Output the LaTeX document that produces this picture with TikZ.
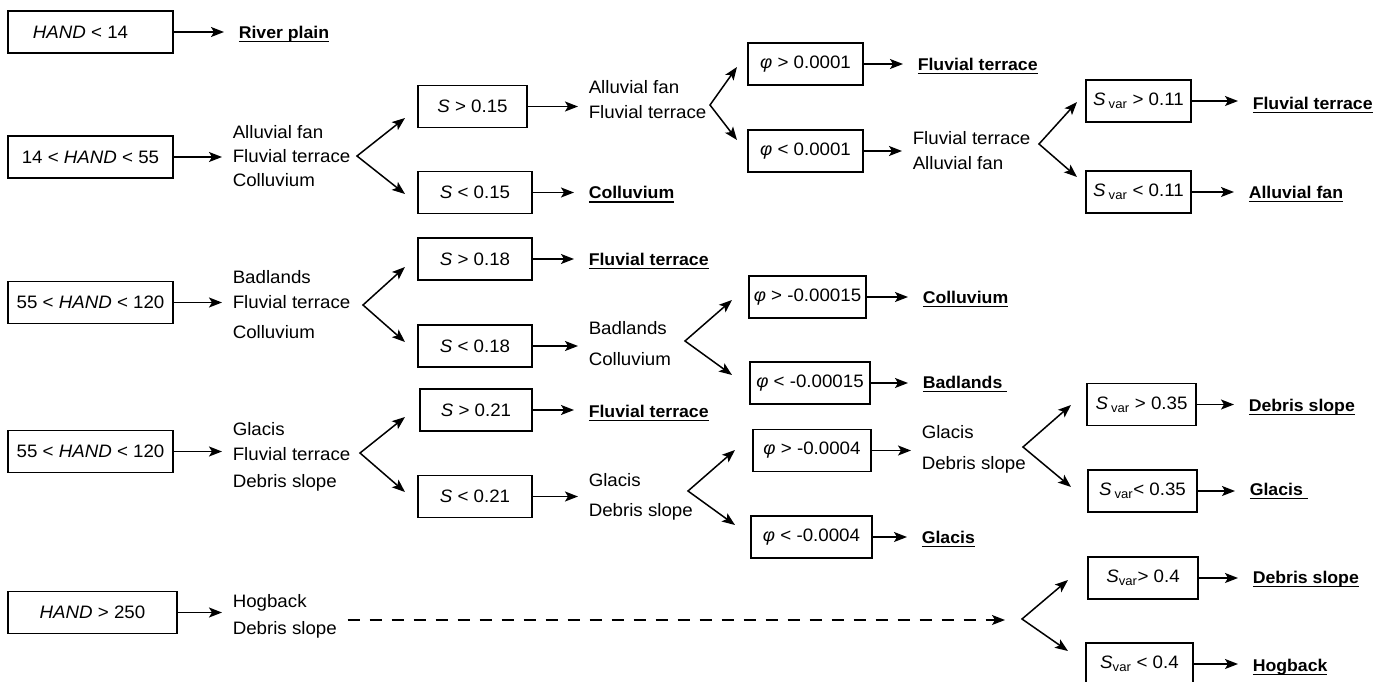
\documentclass[tikz,border=0pt]{standalone}
\usepackage{fontspec}
\setmainfont[FakeStretch=1.04]{Liberation Sans}
\usetikzlibrary{arrows.meta}

\newcommand{\undl}[1]{\sbox0{\textbf{#1}}\rlap{\rule[-4pt]{\wd0}{1.7pt}}\usebox0}

\begin{document}
\begin{tikzpicture}[x=1pt, y=-1pt,
    font=\fontsize{18}{24}\selectfont,
    line width=1.5pt,
    >={Stealth[length=13pt, width=10pt, inset=3pt]},
    cond/.style={draw, minimum width=#1, minimum height=42pt, inner sep=0pt},
    res/.style={anchor=west, inner xsep=14pt, inner ysep=0pt, text height=12.5pt, text depth=0pt,
        font=\fontsize{17}{20}\selectfont},
    stack/.style={anchor=base west, align=left, inner xsep=10pt, inner ysep=0pt}]
    \useasboundingbox (0, 0) rectangle (1382, 681);

    \node[cond=165] at (90.5, 32) (hand1) {\textit{HAND} < 14\hspace*{20pt}};
    \node[cond=165] at (90.5, 157) (hand2) {14 < \textit{HAND} < 55};
    \node[cond=165] at (90.5, 302.5) (hand3) {55 < \textit{HAND} < 120};
    \node[cond=165] at (90.5, 451.5) (hand4) {55 < \textit{HAND} < 120};
    \node[cond=169] at (92.5, 612.5) (hand5) {\textit{HAND} > 250};

    \node[stack] at (222, 186.5) (mix1) {Alluvial fan\\Fluvial terrace\\Colluvium};
    \node[stack] at (222, 338.5) (mix4) {Badlands\\[1pt]Fluvial terrace\\[6pt]Colluvium};
    \node[stack] at (222, 487.5) (mix6) {Glacis\\[1pt]Fluvial terrace\\[3pt]Debris slope};
    \node[stack] at (222, 634.5) (mix9) {Hogback\\[3pt]Debris slope};
    \node[res] at (224, 32) (out1) {\undl{River plain}};

    \node[cond=109] at (472.5, 106.5) (slope1) {\textit{S} > 0.15};
    \node[cond=114] at (475, 192.5) (slope2) {\textit{S} < 0.15};
    \node[cond=114] at (475, 259) (slope3) {\textit{S} > 0.18};
    \node[cond=114] at (475, 346) (slope4) {\textit{S} < 0.18};
    \node[cond=112] at (476, 410) (slope5) {\textit{S} > 0.21};
    \node[cond=114] at (475, 496.5) (slope6) {\textit{S} < 0.21};

    \node[stack] at (578, 118.5) (mix2) {Alluvial fan\\[1pt]Fluvial terrace};
    \node[stack] at (578, 365.5) (mix5) {Badlands\\[7pt]Colluvium};
    \node[stack] at (578, 516.5) (mix7) {Glacis\\[6pt]Debris slope};
    \node[res] at (574, 192.5) (out2) {\undl{Colluvium}};
    \node[res] at (574, 259) (out6) {\undl{Fluvial terrace}};
    \node[res] at (574, 411) (out9) {\undl{Fluvial terrace}};

    \node[cond=115] at (805.5, 64) (phi1) {\textit{φ} > 0.0001};
    \node[cond=115] at (805.5, 151) (phi2) {\textit{φ} < 0.0001};
    \node[cond=117] at (807.5, 297) (phi3) {\textit{φ} > -0.00015};
    \node[cond=120] at (810, 383) (phi4) {\textit{φ} < -0.00015};
    \node[cond=118] at (812, 450.5) (phi5) {\textit{φ} > -0.0004};
    \node[cond=121] at (811.5, 537) (phi6) {\textit{φ} < -0.0004};

    \node[stack] at (902, 169.5) (mix3) {Fluvial terrace\\[1pt]Alluvial fan};
    \node[stack] at (911, 469.5) (mix8) {Glacis\\[7pt]Debris slope};
    \node[res] at (903, 64) (out3) {\undl{Fluvial terrace}};
    \node[res] at (908, 297) (out7) {\undl{Colluvium}};
    \node[res] at (908, 382) (out8) {\undl{Badlands\ }};
    \node[res] at (907, 537) (out10) {\undl{Glacis}};

    \node[cond=105] at (1138.5, 101) (svar1) {\textit{S}\,\textsubscript{var} > 0.11};
    \node[cond=105] at (1138.5, 192) (svar2) {\textit{S}\,\textsubscript{var} < 0.11};
    \node[cond=109] at (1141.5, 404.5) (svar3) {\textit{S}\,\textsubscript{var} > 0.35};
    \node[cond=109] at (1142.5, 491) (svar4) {\textit{S}\,\textsubscript{var}< 0.35};
    \node[cond=110] at (1143, 578) (svar5) {\textit{S}\textsubscript{var}> 0.4};
    \node[cond=107] at (1139.5, 664) (svar6) {\textit{S}\textsubscript{var} < 0.4};

    \node[res] at (1238, 103) (out4) {\undl{Fluvial terrace}};
    \node[res] at (1234, 192) (out5) {\undl{Alluvial fan}};
    \node[res] at (1234, 405) (out11) {\undl{Debris slope}};
    \node[res] at (1235, 489) (out12) {\undl{Glacis\ }};
    \node[res] at (1238, 577) (out13) {\undl{Debris slope}};
    \node[res] at (1238, 665) (out14) {\undl{Hogback}};

    \coordinate (fork1) at (357, 156);
    \coordinate (fork1a) at (405, 118);
    \coordinate (fork1b) at (405, 194);
    \coordinate (fork2) at (710, 105);
    \coordinate (fork2a) at (737, 67);
    \coordinate (fork2b) at (737, 140);
    \coordinate (fork3) at (1039, 144);
    \coordinate (fork3a) at (1077, 102);
    \coordinate (fork3b) at (1077, 177);
    \coordinate (fork4) at (363, 305);
    \coordinate (fork4a) at (405, 267);
    \coordinate (fork4b) at (405, 342);
    \coordinate (fork5) at (685, 341);
    \coordinate (fork5a) at (732, 300);
    \coordinate (fork5b) at (732, 375);
    \coordinate (fork6) at (360, 453);
    \coordinate (fork6a) at (405, 417);
    \coordinate (fork6b) at (405, 492);
    \coordinate (fork7) at (688, 491);
    \coordinate (fork7a) at (735, 450);
    \coordinate (fork7b) at (735, 525);
    \coordinate (fork8) at (1023, 447);
    \coordinate (fork8a) at (1071, 405);
    \coordinate (fork8b) at (1071, 487);
    \coordinate (dash) at (1005, 620);
    \coordinate (fork9) at (1022, 619);
    \coordinate (fork9a) at (1068, 580);
    \coordinate (fork9b) at (1068, 651);

    \draw[->] (hand1.east) -- (hand1.east -| out1.west);
    \draw[->] (hand2.east) -- (hand2.east -| mix1.west);
    \draw[->] (hand3.east) -- (hand3.east -| mix4.west);
    \draw[->] (hand4.east) -- (hand4.east -| mix6.west);
    \draw[->] (hand5.east) -- (hand5.east -| mix9.west);

    \draw[->] (slope1.east) -- (slope1.east -| mix2.west);
    \draw[->] (slope2.east) -- (slope2.east -| out2.west);
    \draw[->] (slope3.east) -- (slope3.east -| out6.west);
    \draw[->] (slope4.east) -- (slope4.east -| mix5.west);
    \draw[->] (slope5.east) -- (slope5.east -| out9.west);
    \draw[->] (slope6.east) -- (slope6.east -| mix7.west);

    \draw[->] (phi1.east) -- (phi1.east -| out3.west);
    \draw[->] (phi2.east) -- (phi2.east -| mix3.west);
    \draw[->] (phi3.east) -- (phi3.east -| out7.west);
    \draw[->] (phi4.east) -- (phi4.east -| out8.west);
    \draw[->] (phi5.east) -- (phi5.east -| mix8.west);
    \draw[->] (phi6.east) -- (phi6.east -| out10.west);

    \draw[->] (svar1.east) -- (svar1.east -| out4.west);
    \draw[->] (svar2.east) -- (svar2.east -| out5.west);
    \draw[->] (svar3.east) -- (svar3.east -| out11.west);
    \draw[->] (svar4.east) -- (svar4.east -| out12.west);
    \draw[->] (svar5.east) -- (svar5.east -| out13.west);
    \draw[->] (svar6.east) -- (svar6.east -| out14.west);

    \draw[<->] (fork1a) -- (fork1) -- (fork1b);
    \draw[<->] (fork2a) -- (fork2) -- (fork2b);
    \draw[<->] (fork3a) -- (fork3) -- (fork3b);
    \draw[<->] (fork4a) -- (fork4) -- (fork4b);
    \draw[<->] (fork5a) -- (fork5) -- (fork5b);
    \draw[<->] (fork6a) -- (fork6) -- (fork6b);
    \draw[<->] (fork7a) -- (fork7) -- (fork7b);
    \draw[<->] (fork8a) -- (fork8) -- (fork8b);
    \draw[<->] (fork9a) -- (fork9) -- (fork9b);

    \draw[->, dash pattern=on 12pt off 10pt] (mix9.east |- dash) -- (dash);

  \end{tikzpicture}
\end{document}
